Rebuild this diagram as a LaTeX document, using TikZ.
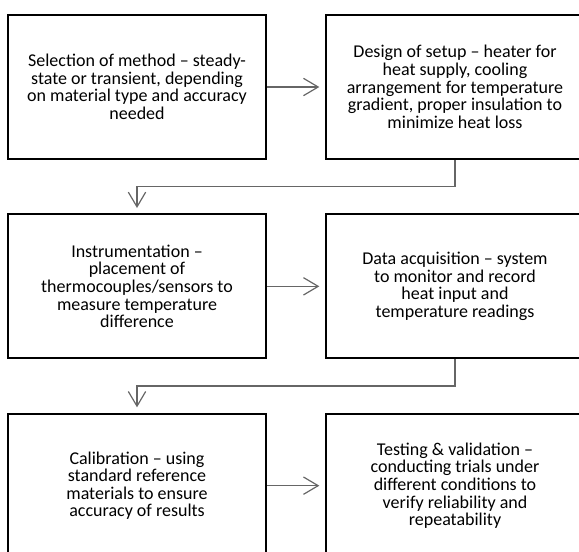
\documentclass[tikz,border=0pt]{standalone}
\usepackage{fontspec}
\setmainfont{Carlito}
\usetikzlibrary{shapes, arrows.meta, positioning}

\begin{document}
\begin{tikzpicture}[x=0.75pt, y=-0.75pt, node distance = 40pt and 43pt]
  \tikzstyle{stage} = [rectangle, draw, line width=1.5pt, text centered, align=center, minimum width=194pt, minimum height=108pt, font=\fontsize{13.5}{13.2}\selectfont]
  \tikzstyle{connector} = [draw, line width=0.9pt, color=black!60, -{Straight Barb[length=11pt, width=13pt]}, shorten >=4pt]
  \clip (0,0) rectangle (579,551);
  \node [stage] (selection) at (137,87) {Selection of method – steady-\\state or transient, depending\\on material type and accuracy\\needed};
  \node [stage, right = of selection] (design) {Design of setup – heater for\\heat supply, cooling\\arrangement for temperature\\gradient, proper insulation to\\minimize heat loss};
  \node [stage, below = of selection] (instrument) {Instrumentation –\\placement of\\thermocouples/sensors to\\measure temperature\\difference};
  \node [stage, right = of instrument] (acquisition) {Data acquisition – system\\to monitor and record\\heat input and\\temperature readings};
  \node [stage, below = of instrument] (calibration) {Calibration – using\\standard reference\\materials to ensure\\accuracy of results};
  \node [stage, right = of calibration] (testing) {Testing \& validation –\\conducting trials under\\different conditions to\\verify reliability and\\repeatability};
  \path [connector] (selection) -- (design);
  \path [connector] (design.south) -- ++(0,-20pt) -| (instrument.north);
  \path [connector] (instrument) -- (acquisition);
  \path [connector] (acquisition.south) -- ++(0,-20pt) -| (calibration.north);
  \path [connector] (calibration) -- (testing);
\end{tikzpicture}
\end{document}
